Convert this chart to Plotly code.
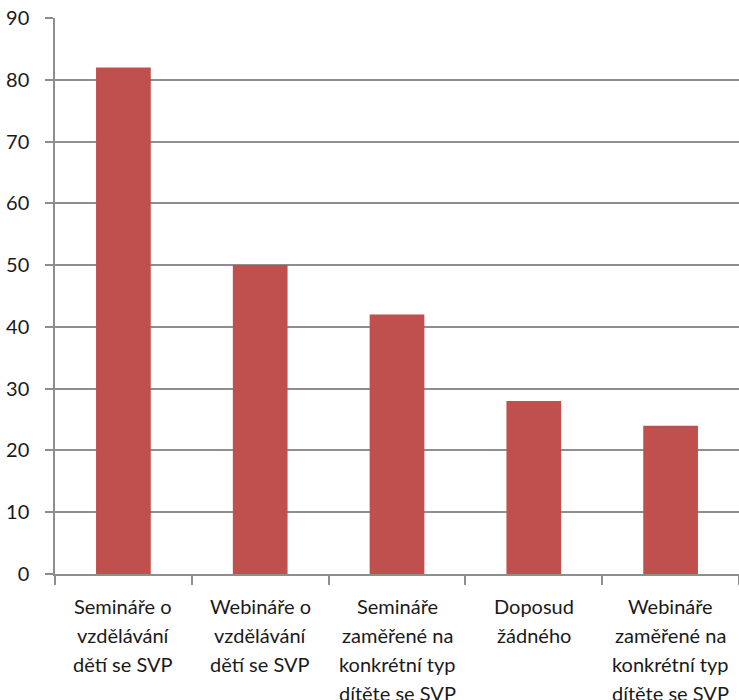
import plotly.graph_objects as go

# Survey answers (bar chart)
categories = [
    "Semináře o vzdělávání dětí se SVP",
    "Webináře o vzdělávání dětí se SVP",
    "Semináře zaměřené na konkrétní typ dítěte se SVP",
    "Doposud žádného",
    "Webináře zaměřené na konkrétní typ dítěte se SVP",
]
label_lines = [
    ["Semináře o", "vzdělávání", "dětí se SVP"],
    ["Webináře o", "vzdělávání", "dětí se SVP"],
    ["Semináře", "zaměřené na", "konkrétní typ", "dítěte se SVP"],
    ["Doposud", "žádného"],
    ["Webináře", "zaměřené na", "konkrétní typ", "dítěte se SVP"],
]
values = [82, 50, 42, 28, 24]
y_ticks = list(range(0, 91, 10))

BAR_COLOR = "#C0504D"
GRID_COLOR = "#8E8E8E"
TEXT_COLOR = "#1A1A1A"
FONT = "Lato, 'Noto Sans', sans-serif"

fig = go.Figure(
    go.Bar(
        x=categories,
        y=values,
        marker=dict(color=BAR_COLOR, line=dict(width=0)),
        width=0.4,
    )
)

# Multi-line category labels with wide line spacing
annotations = []
for cat, lines in zip(categories, label_lines):
    for i, line in enumerate(lines):
        annotations.append(
            dict(
                x=cat, y=0, xref="x", yref="y",
                text=line, showarrow=False,
                xanchor="center", yanchor="middle",
                yshift=-32 - 29 * i,
                font=dict(family=FONT, size=20, color=TEXT_COLOR),
            )
        )

fig.update_layout(
    width=739,
    height=700,
    margin=dict(l=55, r=0, t=18, b=126),
    plot_bgcolor="white",
    paper_bgcolor="white",
    showlegend=False,
    annotations=annotations,
    xaxis=dict(
        type="category",
        range=[-0.5, 4.5],
        showticklabels=False,
        tickson="boundaries",
        ticks="outside",
        ticklen=9,
        tickcolor=GRID_COLOR,
        tickwidth=1.5,
        showline=True,
        linecolor=GRID_COLOR,
        linewidth=1.5,
        showgrid=False,
        zeroline=False,
    ),
    yaxis=dict(
        range=[0, 90],
        tickvals=y_ticks,
        ticks="outside",
        ticklen=8,
        tickcolor=GRID_COLOR,
        tickwidth=1.5,
        ticklabelstandoff=12,
        showline=True,
        linecolor=GRID_COLOR,
        linewidth=1.5,
        showgrid=True,
        gridcolor=GRID_COLOR,
        gridwidth=1.5,
        zeroline=False,
        tickfont=dict(family=FONT, size=20, color=TEXT_COLOR),
    ),
)

fig.write_html("out.html")
